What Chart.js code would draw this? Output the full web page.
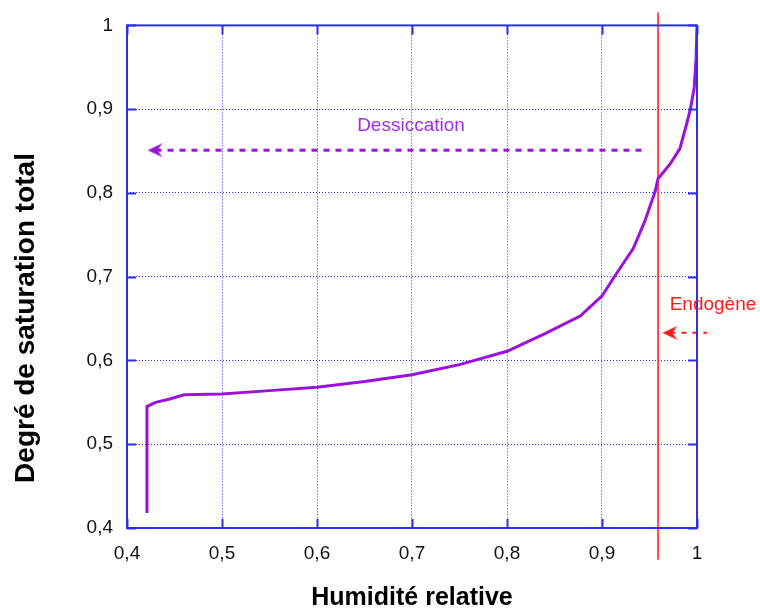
<!DOCTYPE html>
<html>
<head>
<meta charset="utf-8">
<script src="https://cdn.jsdelivr.net/npm/chart.js@4/dist/chart.umd.min.js"></script>
<style>
    html, body { margin: 0; padding: 0; background: #ffffff; }
    #wrap { width: 760px; height: 614px; position: relative; }
</style>
</head>
<body>
<div id="wrap"><canvas id="chart" width="760" height="614"></canvas></div>
<script>
// Relative humidity (x) vs total saturation degree (y)
let humidity = [0.421, 0.421, 0.43, 0.445, 0.46, 0.5, 0.55, 0.6, 0.65, 0.7, 0.75, 0.8, 0.84, 0.877, 0.9, 0.913, 0.933, 0.945, 0.956, 0.959, 0.972, 0.982, 0.989, 0.993, 0.997, 0.999, 1.0];
let saturation = [0.418, 0.545, 0.55, 0.554, 0.559, 0.560, 0.564, 0.568, 0.575, 0.583, 0.595, 0.611, 0.632, 0.653, 0.677, 0.70, 0.734, 0.766, 0.802, 0.817, 0.835, 0.853, 0.882, 0.90, 0.925, 0.96, 1.0];

let xTickLabels = ['0,4', '0,5', '0,6', '0,7', '0,8', '0,9', '1'];
let yTickLabels = ['0,4', '0,5', '0,6', '0,7', '0,8', '0,9', '1'];

// vertical "Endogène" line
let endogeneX = [0.959, 0.959];
let endogeneY = [1.0155, 0.362];

// "Dessiccation" arrow (head first)
let dessArrowX = [0.43, 0.945];
let dessArrowY = [0.851, 0.851];

// "Endogène" arrow (head first)
let endoArrowX = [0.972, 1.0105];
let endoArrowY = [0.633, 0.633];

const PURPLE = '#9a12dc';
const RED = '#ff1a1a';
const BLUE = '#2e2ef0';

function toPoints(xs, ys) {
    return xs.map(function (x, i) { return {x: x, y: ys[i]}; });
}

// small dart shaped arrow head pointing left
function makeArrowHead(color) {
    let c = document.createElement('canvas');
    c.width = 16;
    c.height = 14;
    let g = c.getContext('2d');
    g.fillStyle = color;
    g.beginPath();
    g.moveTo(0, 7);
    g.lineTo(15, 0);
    g.lineTo(10, 7);
    g.lineTo(15, 14);
    g.closePath();
    g.fill();
    return c;
}

let frame_plugin = {
    id: 'frame',
    afterDraw: function (chart) {
        let ctx = chart.ctx;
        let a = chart.chartArea;
        let xs = chart.scales.x;
        let ys = chart.scales.y;
        ctx.save();
        ctx.strokeStyle = BLUE;
        ctx.lineWidth = 2;
        ctx.strokeRect(a.left, a.top, a.right - a.left, a.bottom - a.top);

        // inward ticks on all four sides
        ctx.beginPath();
        for (let t of xs.ticks) {
            let px = Math.round(xs.getPixelForValue(t.value)) + 0.5;
            ctx.moveTo(px, a.bottom); ctx.lineTo(px, a.bottom - 9);
            ctx.moveTo(px, a.top); ctx.lineTo(px, a.top + 9);
        }
        for (let t of ys.ticks) {
            let py = Math.round(ys.getPixelForValue(t.value)) + 0.5;
            ctx.moveTo(a.left, py); ctx.lineTo(a.left + 9, py);
            ctx.moveTo(a.right, py); ctx.lineTo(a.right - 9, py);
        }
        ctx.lineWidth = 2;
        ctx.stroke();

        // axis titles
        ctx.fillStyle = '#000000';
        ctx.textAlign = 'center';
        ctx.textBaseline = 'middle';
        ctx.font = 'bold 25px "Liberation Sans", Arial, sans-serif';
        ctx.fillText('Humidité relative', 412, 598);

        ctx.save();
        ctx.translate(26, 318);
        ctx.rotate(-Math.PI / 2);
        ctx.font = 'bold 28px "Liberation Sans", Arial, sans-serif';
        ctx.fillText('Degré de saturation total', 0, 0);
        ctx.restore();

        // annotations
        ctx.font = '19px "Liberation Sans", Arial, sans-serif';
        ctx.fillStyle = '#a22ee4';
        ctx.fillText('Dessiccation', 411, 126);
        ctx.fillStyle = RED;
        ctx.fillText('Endogène', 713, 305);
        ctx.restore();
    }
};

window.addEventListener('load', function () {
    let head_purple = makeArrowHead(PURPLE);
    let head_red = makeArrowHead(RED);

    let ctx = document.getElementById('chart').getContext('2d');
    let chart = new Chart(ctx, {
        type: 'line',
        data: {
            datasets: [{
                data: toPoints(humidity, saturation),
                borderColor: PURPLE,
                borderWidth: 3,
                pointRadius: 0,
                tension: 0
            }, {
                data: toPoints(endogeneX, endogeneY),
                borderColor: RED,
                borderWidth: 1.5,
                pointRadius: 0,
                clip: false
            }, {
                data: toPoints(dessArrowX, dessArrowY),
                borderColor: PURPLE,
                borderWidth: 3,
                borderDash: [6, 6],
                pointStyle: [head_purple, false],
                pointRadius: [8, 0],
                clip: false
            }, {
                data: toPoints(endoArrowX, endoArrowY),
                borderColor: RED,
                borderWidth: 2,
                borderDash: [5, 6],
                pointStyle: [head_red, false],
                pointRadius: [8, 0],
                clip: false
            }]
        },
        options: {
            responsive: false,
            animation: false,
            layout: {padding: {top: 23, right: 63, left: 0, bottom: 0}},
            plugins: {
                legend: {display: false},
                tooltip: {enabled: false}
            },
            scales: {
                x: {
                    type: 'linear',
                    min: 0.4,
                    max: 1,
                    ticks: {
                        stepSize: 0.1,
                        padding: 14,
                        color: '#111111',
                        font: {family: '"Liberation Sans", Arial, sans-serif', size: 19},
                        callback: function (v, i) { return xTickLabels[i]; }
                    },
                    grid: {color: '#2828ff', lineWidth: 1, drawTicks: false},
                    border: {display: false, dash: [1, 2]},
                    afterFit: function (scale) { scale.height = 86; }
                },
                y: {
                    min: 0.4,
                    max: 1,
                    ticks: {
                        stepSize: 0.1,
                        padding: 14,
                        color: '#111111',
                        font: {family: '"Liberation Sans", Arial, sans-serif', size: 19},
                        callback: function (v, i) { return yTickLabels[i]; }
                    },
                    grid: {color: '#2828ff', lineWidth: 1, drawTicks: false},
                    border: {display: false, dash: [1, 2]},
                    afterFit: function (scale) { scale.width = 127; }
                }
            }
        },
        plugins: [frame_plugin]
    });
});
</script>
</body>
</html>
